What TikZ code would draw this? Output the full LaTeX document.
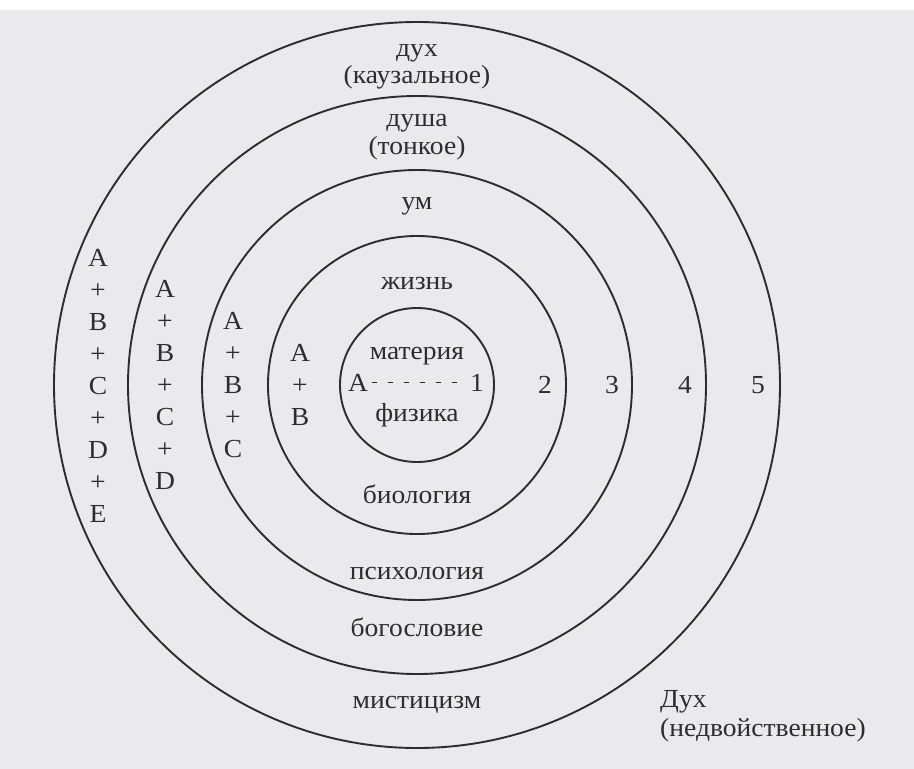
\documentclass[tikz,border=0pt]{standalone}
\usepackage{fontspec}
\setmainfont{Liberation Serif}[FakeStretch=1.06]
\definecolor{paper}{RGB}{234,234,236}
\definecolor{ink}{RGB}{45,45,45}
\begin{document}
\begin{tikzpicture}[
  x=1pt, y=-1pt,
  every node/.style={font=\fontsize{26}{30}\selectfont, inner sep=0pt, anchor=base, text=ink},
  ring/.style={draw=ink, line width=1.9pt},
  dots/.style={draw=ink, line width=1.7pt, dash pattern=on 5pt off 11pt}
]
\useasboundingbox (0,0) rectangle (914,769);
\fill[white] (0,0) rectangle (914,769);
\fill[paper] (0,10) rectangle (914,769);
\coordinate (O) at (417,385);
% concentric rings
\foreach \r in {77,149,215,289,363}
  \draw[ring] (O) circle[radius=\r pt];
% upper labels
\node (spirit) at (417,56) {дух};
\node (causal) at (417,83) {(каузальное)};
\node (soul) at (417,126) {душа};
\node (subtle) at (417,154) {(тонкое)};
\node (mind) at (417,209) {ум};
\node (life) at (417,289) {жизнь};
\node (matter) at (417,359) {материя};
% core
\node (a0) at (358,391) {A};
\node (one) at (477,391) {1};
\draw[dots] ([xshift=4pt]a0.east) -- ([xshift=-12pt]one.west);
\node (physics) at (417,421) {физика};
\foreach \n/\x in {2/545,3/612,4/685,5/758}
  \node (lvl\n) at (\x,393) {\n};
% lower labels
\node (biology) at (417,503) {биология};
\node (psychology) at (417,579) {психология};
\node (theology) at (417,636) {богословие};
\node (mysticism) at (417,708) {мистицизм};
\node[anchor=base west] (Spirit) at (660,707) {Дух};
\node[anchor=base west] (nondual) at (660,736) {(недвойственное)};
% sums on the left
\foreach \t [count=\i] in {A,+,B,+,C,+,D,+,E}
  \node (sa\i) at (98,{266+32*(\i-1)}) {\t};
\foreach \t [count=\i] in {A,+,B,+,C,+,D}
  \node (sb\i) at (165,{297+32*(\i-1)}) {\t};
\foreach \t [count=\i] in {A,+,B,+,C}
  \node (sc\i) at (233,{329+32*(\i-1)}) {\t};
\foreach \t [count=\i] in {A,+,B}
  \node (sd\i) at (300,{361+32*(\i-1)}) {\t};
\end{tikzpicture}
\end{document}
